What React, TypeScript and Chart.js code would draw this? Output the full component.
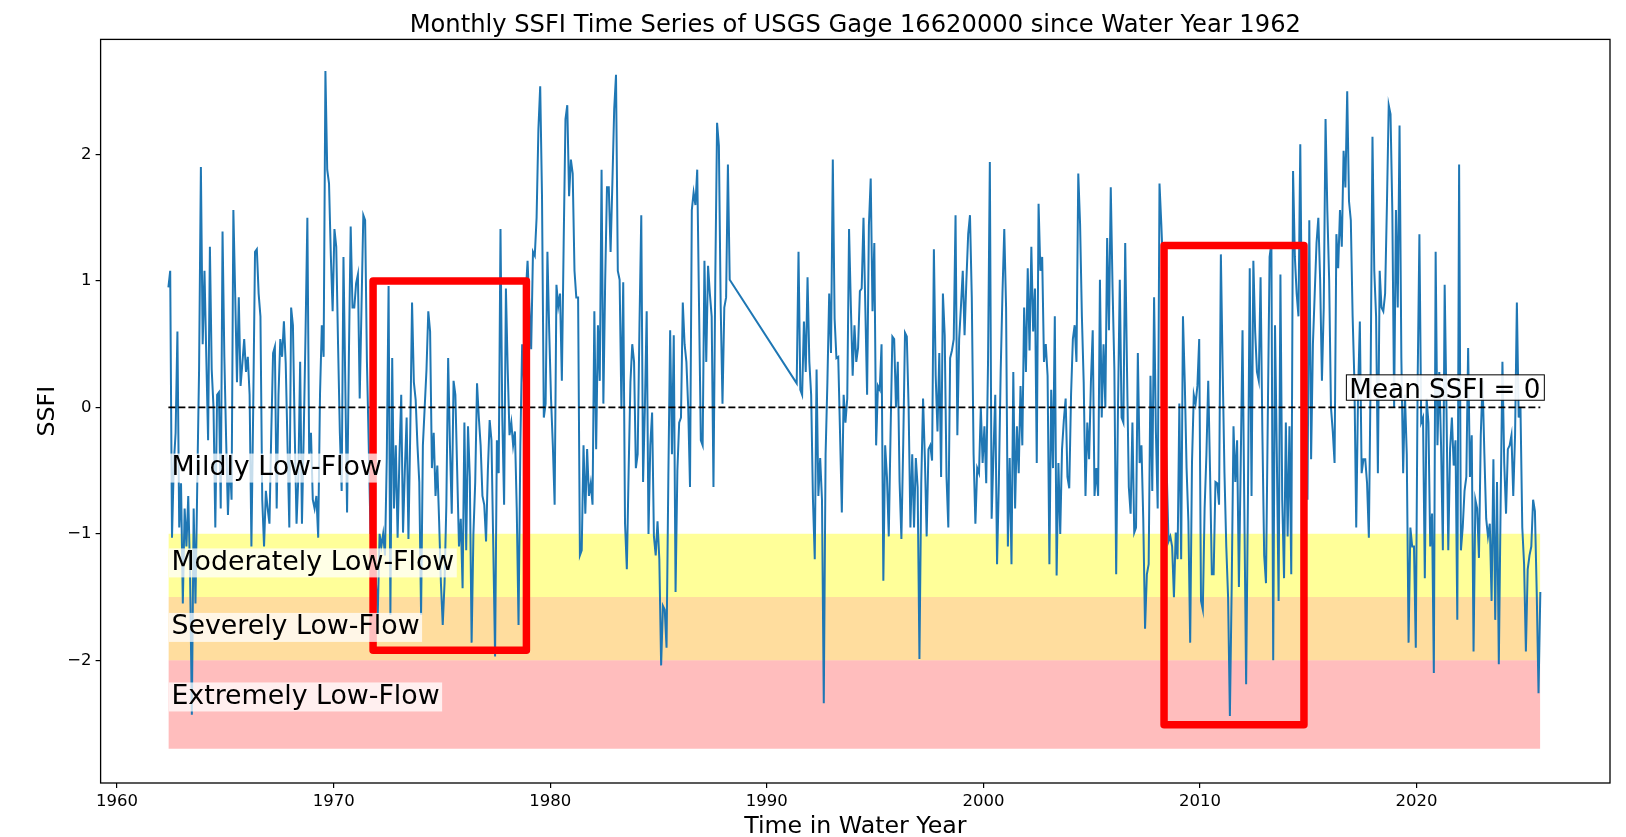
import React, { useEffect, useRef } from "react";
import { Chart, registerables } from "chart.js";

Chart.register(...registerables);

// ---------------- data ----------------
const seriesAStartYear = 1962.37; // first monthly value (before the data gap)
const seriesBStartYear = 1991.38; // first monthly value after the gap

const ssfiA: number[] = [
  0.95, 1.08, -1.03, -0.45, -0.2, 0.6, -0.95, -0.6, -1.55, -0.8, -1.1, -0.7,
  -1.3, -2.43, -0.8, -1.55, -0.6, 0.3, 1.9, 0.5, 1.08, 0.4, -0.26, 1.27,
  0.3, 0.0, -0.95, 0.1, 0.12, -0.8, 1.39, 0.4, -0.26, -0.85, -0.4, -0.73,
  1.56, 0.9, 0.2, 0.87, 0.17, 0.35, 0.54, 0.28, 0.4, 0.1, -1.1, 0.0,
  1.23, 1.25, 0.9, 0.72, -0.73, -1.1, -0.66, -0.8, -0.92, -0.2, 0.43, 0.48,
  -0.8, 0.1, 0.54, 0.4, 0.68, 0.35, -0.3, -0.95, 0.79, 0.65, -0.2, -0.92,
  -0.55, 0.36, -0.92, -0.2, 0.6, 1.5, -0.37, -0.2, -0.73, -0.8, -0.7, -1.03,
  0.1, 0.65, 0.4, 2.66, 1.88, 1.77, 1.2, 0.76, 1.41, 1.27, 0.5, -0.2,
  -0.66, 1.19, 0.2, -0.83, 0.4, 1.43, 0.79, 0.79, 0.98, 1.05, 0.07, 0.8,
  1.52, 1.48, 0.36, -0.3, -1.0, -0.6, -0.8, -1.39, -1.64, -1.0, -1.1, -1.0,
  -1.17, -0.4, 0.96, -1.64, 0.39, -0.8, -0.3, -1.03, -0.4, 0.1, -0.99, -0.5,
  -0.08, -1.04, -0.2, 0.83, 0.2, 0.06, -0.3, -0.59, -1.64, -0.3, 0.0, 0.3,
  0.76, 0.6, -0.48, -0.2, -0.7, -0.46, -0.9, -1.39, -1.72, -1.39, -0.77, 0.39,
  -0.3, -0.84, 0.21, 0.1, -0.5, -1.1, -0.88, -1.43, -0.12, -1.13, -0.15, -0.55,
  -1.86, -1.0, -0.59, 0.19, -0.08, -0.3, -0.7, -0.77, -1.06, -0.5, -0.1, -0.26,
  -1.1, -1.97, -0.26, -0.52, 1.41, -0.08, -0.77, 0.94, 0.3, -0.22, -0.12, -0.3,
  -0.19, -0.8, -1.72, -0.3, 0.5, 0.2, 0.9, 1.16, 0.8, 0.46, 1.23, 1.2,
  1.5, 2.2, 2.54, 1.67, -0.08, 0.03, 1.23, 0.6, 0.07, -0.3, -0.77, 0.97,
  0.8, 0.9, 0.21, 1.3, 2.28, 2.39, 1.67, 1.96, 1.85, 1.08, 0.87, 0.87,
  -1.17, -1.13, -0.3, -0.84, -0.33, -0.7, -0.6, -0.77, 0.76, -0.33, 0.65, 0.21,
  1.88, 0.03, 1.0, 1.74, 1.74, 1.23, 1.78, 2.36, 2.63, 1.08, 1.01, -0.01,
  0.99, -0.92, -1.28, -0.5, 0.2, 0.5, 0.36, -0.48, -0.37, 0.65, 1.52, -0.59,
  0.0, 0.76, -1.0, -0.3, -0.04, -1.02, -1.17, -0.9, -1.2, -2.04, -1.57, -1.6,
  -1.9, -0.55, 0.61, -0.37, 0.57, -1.46, -0.5, -0.12, -0.08, 0.83, 0.5, 0.36,
  0.0, -0.63, 1.56, 1.7, 1.6, 1.88, 0.8, -0.26, -0.3, 1.16, 0.36, 1.12,
  0.9, 0.72, -0.63, 1.01, 2.25, 2.07, 0.8, 0.03, 0.79, 0.87, 1.92, 1.01,
];

const ssfiB: number[] = [
  0.19, 1.23, 0.14, 0.1, 0.68, 0.28, 1.03, 0.36, 0.1, -0.73, -1.2, 0.3,
  -0.7, -0.4, -0.73, -2.34, -0.37, 0.2, 0.9, 0.43, 1.96, 0.7, 0.39, 0.4,
  -0.2, -0.83, 0.1, -0.12, 0.07, 1.41, 0.8, 0.25, 0.65, 0.36, 0.47, 0.92,
  0.94, 1.5, 0.8, 0.1, 1.44, 1.81, 0.76, 1.3, -0.3, 0.17, 0.14, 0.5,
  -1.37, -0.3, -0.55, -1.02, -0.2, 0.56, 0.54, 0.0, 0.36, -0.59, -1.04, -0.3,
  0.59, 0.56, 0.0, -0.95, -0.37, -0.95, -0.4, -0.63, -1.99, -0.6, 0.07, -0.4,
  -1.02, -0.33, -0.3, -0.42, 1.25, 0.25, -0.19, 0.43, -0.55, 0.9, 0.57, -0.55,
  -0.95, 0.39, 0.45, 0.54, 1.52, -0.22, 0.54, 0.8, 1.08, 0.57, 1.0, 1.37,
  1.52, 0.87, -0.37, -0.92, -0.48, -0.52, 0.0, -0.44, -0.15, -0.6, 0.36, 1.94,
  -0.88, -0.37, 0.1, -1.24, -0.59, 0.28, 0.9, 1.41, 0.79, -1.1, -0.4, -1.24,
  0.28, -0.8, -0.15, -0.52, 0.17, -0.3, 0.79, 0.28, 1.1, 0.45, 1.27, 0.6,
  0.94, -0.44, 1.61, 1.08, 1.19, 0.36, 0.5, 0.25, -1.24, 0.14, -0.48, 0.72,
  -1.33, -0.44, -1.0, -0.33, -0.1, 0.07, -0.55, -0.64, 0.1, 0.54, 0.65, 0.36,
  1.85, 1.45, 0.72, 0.2, -0.7, -0.12, -0.41, 0.2, 0.61, -0.7, -0.48, -0.7,
  1.01, -0.08, 0.5, 0.0, 1.34, 0.61, 1.74, 0.94, 0.3, -1.32, 0.0, 1.01,
  -0.08, -0.12, 1.3, 0.3, -0.63, -0.84, -0.12, -0.99, -0.95, 0.43, -0.44, -0.3,
  -0.88, -1.75, -1.32, -1.24, 0.25, -0.66, 0.87, -0.19, -0.8, 1.77, 1.45, 1.08,
  0.0, -0.5, -1.06, -1.02, -1.1, -1.5, -0.99, -1.2, 0.03, -1.2, 0.72, 0.2,
  -0.48, -0.9, -1.86, -0.44, 0.1, 0.03, 0.17, 0.54, -1.53, -1.6, -0.8, -0.37,
  0.21, -0.5, -1.32, -1.32, -0.59, -0.6, -0.77, 1.21, 0.3, -0.52, -1.1, -1.5,
  -2.44, -1.42, -0.15, -0.59, -0.26, -1.42, -0.45, 0.61, -0.8, -2.19, -0.73, 1.1,
  -0.7, 1.16, 0.6, 0.28, 0.21, 1.03, -0.2, -1.17, -1.39, -0.08, 1.19, 1.3,
  -2.0, 0.65, -0.37, -1.53, 1.05, -0.73, -1.35, -0.12, -1.02, -0.15, -1.32, 1.87,
  1.19, 0.9, 0.72, 2.08, 0.5, 0.0, -0.4, -0.73, 1.48, -0.41, 0.5, 0.9,
  1.3, 1.5, 1.01, 0.21, 0.79, 2.28, 1.55, 1.01, 0.0, -0.19, -0.44, 1.37,
  1.1, 1.56, 1.27, 2.03, 1.74, 2.5, 1.63, 1.48, 0.72, 0.2, -0.95, 0.1,
  0.68, -0.52, -0.41, -0.41, -0.6, -1.03, 0.28, 2.14, 1.08, 0.72, -0.52, 1.08,
  0.79, 0.76, 0.9, 1.6, 2.39, 2.32, 1.55, 0.0, 1.56, 0.79, 2.23, 0.39,
  -0.52, 0.1, -0.37, -1.86, -0.95, -1.1, -1.1, -1.9, 0.17, 1.37, -0.12, -0.08,
  -1.35, 0.07, -0.12, -1.1, -0.84, -2.1, 1.23, -0.3, 0.28, -0.3, -1.13, 0.97,
  0.0, -1.13, -0.33, -0.08, -0.46, -0.26, -1.68, 1.92, -1.13, -0.95, -0.66, -0.55,
  0.47, -0.55, -0.22, -1.93, -0.73, -0.8, -1.19, -0.22, 0.21, -0.37, -0.88, -1.02,
  -0.92, -1.53, -0.41, -1.68, -0.59, -2.03, -0.77, 0.36, -0.44, -0.84, -0.33, -0.3,
  -0.22, -0.7, -0.22, 0.83, -0.08, 0.0, -0.95, -1.24, -1.93, -1.28, -1.17, -1.1,
  -0.73, -0.82, -1.46, -2.26, -1.46,
];

const meanSSFI = 0;
const bandUpper = [-1, -1.5, -2];
const bandLower = [-1.5, -2, -2.7];

const categoryLabels = ["Mildly Low-Flow", "Moderately Low-Flow", "Severely Low-Flow", "Extremely Low-Flow"];
const categoryLabelY = [-0.48, -1.23, -1.74, -2.29];

const highlightStart = [1971.82, 2008.34];
const highlightEnd = [1978.9, 2014.8];
const highlightTop = [1.0, 1.28];
const highlightBottom = [-1.92, -2.51];

const xTickValues = [1960, 1970, 1980, 1990, 2000, 2010, 2020];
const yTickValues = [-2, -1, 0, 1, 2];
const xRange = [1959.24, 2028.93];
const yRange = [-2.97, 2.91];

const titleText = "Monthly SSFI Time Series of USGS Gage 16620000 since Water Year 1962";
const xTitle = "Time in Water Year";
const yTitle = "SSFI";
const meanLabel = "Mean SSFI = 0";
const meanLabelY = 0.078;

// ---------------- styles ----------------
const FONT = '"DejaVu Sans", "Liberation Sans", sans-serif';
const LINE_COLOR = "#1f77b4";
const BAND_COLORS = ["rgba(255,255,0,0.4)", "rgba(255,165,0,0.38)", "rgba(255,0,0,0.26)"];

export default function App() {
  const ref = useRef<HTMLCanvasElement | null>(null);

  useEffect(() => {
    document.body.style.margin = "0";
    document.body.style.overflow = "hidden";
    const canvas = ref.current;
    if (!canvas) return;

    const ptsA = ssfiA.map((v, i) => ({ x: seriesAStartYear + i / 12, y: v }));
    const ptsB = ssfiB.map((v, i) => ({ x: seriesBStartYear + i / 12, y: v }));
    const series = [...ptsA, ...ptsB];
    const firstX = series[0].x;
    const lastX = series[series.length - 1].x;

    const bandSets = bandUpper.map((top, i) => ({
      data: [
        { x: firstX, y: bandLower[i] },
        { x: lastX, y: bandLower[i] },
      ],
      fill: { value: top },
      backgroundColor: BAND_COLORS[i],
      borderColor: "transparent",
      borderWidth: 0,
      pointRadius: 0,
      order: 10,
    }));

    const rectSets = highlightStart.map((x0, i) => ({
      data: [
        { x: x0, y: highlightTop[i] },
        { x: highlightEnd[i], y: highlightTop[i] },
        { x: highlightEnd[i], y: highlightBottom[i] },
        { x: x0, y: highlightBottom[i] },
        { x: x0, y: highlightTop[i] },
        { x: highlightEnd[i], y: highlightTop[i] },
      ],
      borderColor: "#ff0000",
      borderWidth: 7.5,
      borderJoinStyle: "round",
      borderCapStyle: "round",
      fill: false,
      pointRadius: 0,
      order: 1,
    }));

    const annotate = {
      id: "annotate",
      afterDatasetsDraw(chart: any) {
        const { ctx, chartArea } = chart;
        const xs = chart.scales.x;
        const ys = chart.scales.y;
        ctx.save();
        // frame
        ctx.strokeStyle = "#000";
        ctx.lineWidth = 1.3;
        ctx.strokeRect(chartArea.left, chartArea.top, chartArea.right - chartArea.left, chartArea.bottom - chartArea.top);

        // category labels
        ctx.font = `26.8px ${FONT}`;
        ctx.textAlign = "left";
        ctx.textBaseline = "middle";
        const lx = xs.getPixelForValue(firstX) + 3;
        categoryLabels.forEach((t, i) => {
          const py = ys.getPixelForValue(categoryLabelY[i]);
          const m = ctx.measureText(t);
          const asc = m.actualBoundingBoxAscent;
          const desc = m.actualBoundingBoxDescent;
          ctx.fillStyle = "rgba(255,255,255,0.75)";
          ctx.fillRect(lx - 2.5, py - asc - 1.5, m.width + 5, asc + desc + 3);
          ctx.fillStyle = "#000";
          ctx.fillText(t, lx, py);
        });

        // mean label
        ctx.font = `26.2px ${FONT}`;
        ctx.textAlign = "right";
        ctx.textBaseline = "alphabetic";
        const mx = xs.getPixelForValue(lastX);
        const my = ys.getPixelForValue(meanLabelY);
        const mm = ctx.measureText(meanLabel);
        const ma = mm.actualBoundingBoxAscent;
        ctx.fillStyle = "rgba(255,255,255,0.9)";
        ctx.fillRect(mx - mm.width - 3, my - ma - 2.7, mm.width + 7, ma + 5.4);
        ctx.strokeStyle = "#000";
        ctx.lineWidth = 1;
        ctx.strokeRect(mx - mm.width - 3, my - ma - 2.7, mm.width + 7, ma + 5.4);
        ctx.fillStyle = "#000";
        ctx.fillText(meanLabel, mx, my);

        // titles
        const cx = (chartArea.left + chartArea.right) / 2;
        const cy = (chartArea.top + chartArea.bottom) / 2;
        ctx.textAlign = "center";
        ctx.textBaseline = "alphabetic";
        ctx.font = `24.2px ${FONT}`;
        ctx.fillText(titleText, cx, 31.5);
        ctx.font = `23.7px ${FONT}`;
        ctx.fillText(xTitle, cx, 832.5);
        ctx.save();
        ctx.translate(53.5, cy);
        ctx.rotate(-Math.PI / 2);
        ctx.fillText(yTitle, 0, 0);
        ctx.restore();
        ctx.restore();
      },
    };

    const tickFont = { family: FONT, size: 16.5 };
    const tickGrid = {
      display: true,
      drawOnChartArea: false,
      drawTicks: true,
      tickLength: 5,
      color: "#000",
      lineWidth: 1.2,
    };

    const chart = new Chart(canvas, {
      type: "line",
      data: {
        datasets: [
          ...bandSets,
          {
            data: series,
            borderColor: LINE_COLOR,
            borderWidth: 2,
            pointRadius: 0,
            fill: false,
            tension: 0,
            order: 3,
          },
          {
            data: [
              { x: firstX, y: meanSSFI },
              { x: lastX, y: meanSSFI },
            ],
            borderColor: "#000",
            borderWidth: 1.6,
            borderDash: [7, 3],
            pointRadius: 0,
            fill: false,
            order: 2,
          },
          ...rectSets,
        ] as any,
      },
      options: {
        responsive: false,
        animation: false,
        devicePixelRatio: 1,
        events: [],
        layout: { padding: { top: 39.4, right: 16, bottom: 0, left: 0 } },
        plugins: {
          legend: { display: false },
          tooltip: { enabled: false },
          title: { display: false },
        },
        scales: {
          x: {
            type: "linear",
            min: xRange[0],
            max: xRange[1],
            afterBuildTicks: (s: any) => {
              s.ticks = xTickValues.map((v) => ({ value: v }));
            },
            afterFit: (s: any) => {
              s.height = 54;
            },
            ticks: {
              autoSkip: false,
              maxRotation: 0,
              color: "#000",
              padding: 4,
              font: tickFont,
              callback: (v: any) => String(v),
            },
            grid: tickGrid,
            border: { display: false },
          },
          y: {
            type: "linear",
            min: yRange[0],
            max: yRange[1],
            afterBuildTicks: (s: any) => {
              s.ticks = yTickValues.map((v) => ({ value: v }));
            },
            afterFit: (s: any) => {
              s.width = 100.6;
            },
            ticks: {
              color: "#000",
              padding: 4,
              font: tickFont,
              callback: (v: any) => (Number(v) < 0 ? "\u2212" + Math.abs(Number(v)) : String(v)),
            },
            grid: tickGrid,
            border: { display: false },
          },
        },
      } as any,
      plugins: [annotate],
    });

    return () => chart.destroy();
  }, []);

  return (
    <div style={{ width: 1626, height: 837, background: "#fff" }}>
      <canvas ref={ref} width={1626} height={837} style={{ display: "block", width: 1626, height: 837 }} />
    </div>
  );
}
